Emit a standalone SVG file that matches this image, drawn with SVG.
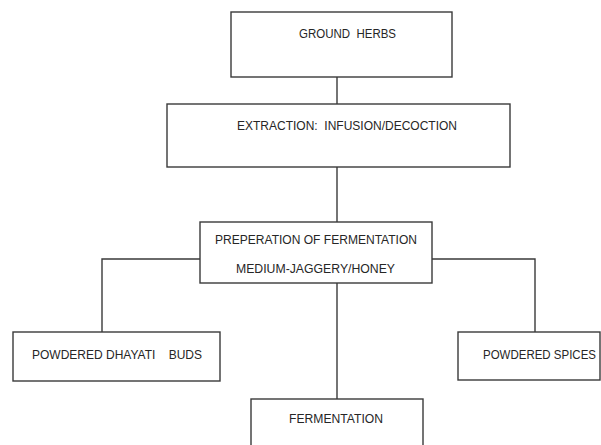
<svg xmlns="http://www.w3.org/2000/svg" width="601" height="445" viewBox="0 0 601 445">
<style>
.box{fill:#fff;stroke:#3a3a3a;stroke-width:1.4}
.lbl{font-family:"Liberation Sans",Arial,sans-serif;font-size:12px;fill:#262626;white-space:pre}
.conn{fill:none;stroke:#3a3a3a;stroke-width:1.4}
</style>
<rect width="601" height="445" fill="#fff"/>
<g id="connectors">
<line class="conn" x1="337" y1="77" x2="337" y2="104"/>
<line class="conn" x1="337" y1="167" x2="337" y2="222"/>
<polyline class="conn" points="200,259 102,259 102,332"/>
<polyline class="conn" points="432,259 535,259 535,332"/>
<line class="conn" x1="337" y1="283" x2="337" y2="399"/>
</g>
<g id="ground-herbs">
<rect class="box" x="231" y="12" width="221" height="65"/>
<text class="lbl" x="299" y="38" textLength="97" lengthAdjust="spacingAndGlyphs" xml:space="preserve">GROUND  HERBS</text>
</g>
<g id="extraction">
<rect class="box" x="167" y="104" width="343" height="63"/>
<text class="lbl" x="237" y="130" textLength="220" lengthAdjust="spacingAndGlyphs" xml:space="preserve">EXTRACTION:  INFUSION/DECOCTION</text>
</g>
<g id="preparation">
<rect class="box" x="200" y="222" width="232" height="61"/>
<text class="lbl" x="215" y="244" textLength="202" lengthAdjust="spacingAndGlyphs">PREPERATION OF FERMENTATION</text>
<text class="lbl" x="236" y="273" textLength="159" lengthAdjust="spacingAndGlyphs">MEDIUM-JAGGERY/HONEY</text>
</g>
<g id="dhayati">
<rect class="box" x="13" y="332" width="207" height="49"/>
<text class="lbl" x="32" y="359" textLength="170" lengthAdjust="spacingAndGlyphs" xml:space="preserve">POWDERED DHAYATI    BUDS</text>
</g>
<g id="spices">
<rect class="box" x="458" y="332" width="142" height="48"/>
<text class="lbl" x="483" y="359" textLength="113" lengthAdjust="spacingAndGlyphs">POWDERED SPICES</text>
</g>
<g id="fermentation">
<rect class="box" x="251" y="399" width="172" height="60"/>
<text class="lbl" x="289" y="423" textLength="94" lengthAdjust="spacingAndGlyphs">FERMENTATION</text>
</g>
</svg>
